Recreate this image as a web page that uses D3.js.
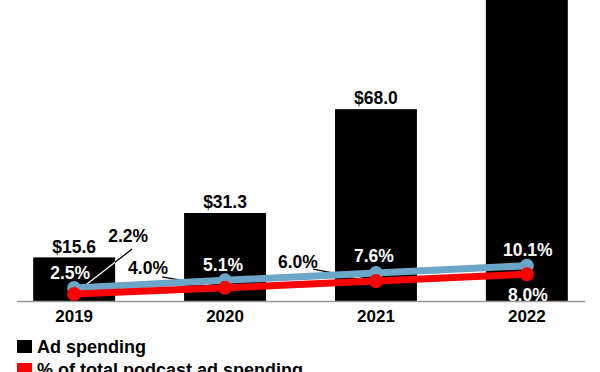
<!DOCTYPE html>
<html>
<head>
    <script src="https://d3js.org/d3.v7.min.js"></script>
    <style>
        body { margin: 0; background: #fff; }
        svg { display: block; }
        text { font-family: "Liberation Sans", Arial, sans-serif; font-weight: bold; }
    </style>
</head>
<body>
    <svg></svg>
    <script>
        // Datos
        const years = ["2019", "2020", "2021", "2022"];
        const adSpending = [15.6, 31.3, 68.0, 120.0];      // 2022 sale del cuadro
        const shareBlue = [2.5, 5.1, 7.6, 10.1];
        const shareRed = [2.2, 4.0, 6.0, 8.0];
        const legendLabels = ["Ad spending", "% of total podcast ad spending"];

        const width = 600, height = 372;
        const baseline = 301.5;

        const svg = d3.select("svg")
            .attr("width", width)
            .attr("height", height);

        // Escalas
        const x = d3.scaleBand()
            .domain(years)
            .range([3, 598])
            .paddingInner(0.457)
            .paddingOuter(0.2);
        const cx = d => x(d) + x.bandwidth() / 2;

        const yBar = d3.scaleLinear().domain([0, 106.6]).range([baseline, 0]);
        const yBlue = d3.scaleLinear().domain([0, 10]).range([295.3, 266]);
        const yRed = d3.scaleLinear().domain([0, 10]).range([baseline, 267.4]);

        // Barras
        svg.append("g")
            .selectAll("rect")
            .data(adSpending)
            .join("rect")
            .attr("x", (d, i) => x(years[i]))
            .attr("y", d => yBar(d))
            .attr("width", x.bandwidth())
            .attr("height", d => baseline - yBar(d))
            .attr("fill", "#000");

        svg.append("g")
            .selectAll("text")
            .data(adSpending.map((v, i) => ({ v, i })).filter(d => yBar(d.v) > 20))
            .join("text")
            .attr("x", d => cx(years[d.i]))
            .attr("y", d => yBar(d.v) - 11)
            .attr("dy", "0.35em")
            .attr("text-anchor", "middle")
            .attr("font-size", 17.5)
            .attr("fill", "#000")
            .text(d => "$" + d.v.toFixed(1));

        // Clip para las partes de las guías dentro de las barras
        svg.append("clipPath").attr("id", "bars")
            .selectAll("rect")
            .data(adSpending)
            .join("rect")
            .attr("x", (d, i) => x(years[i]))
            .attr("y", d => yBar(d))
            .attr("width", x.bandwidth())
            .attr("height", d => baseline - yBar(d));

        // Eje
        svg.append("line")
            .attr("x1", 17).attr("x2", 585)
            .attr("y1", baseline).attr("y2", baseline)
            .attr("stroke", "#9a9a9a")
            .attr("stroke-width", 1.5);

        const axis = svg.append("g")
            .attr("transform", `translate(0,${baseline})`)
            .call(d3.axisBottom(x).tickSize(0).tickPadding(8));
        axis.select(".domain").remove();
        axis.selectAll("text")
            .attr("font-size", 17)
            .attr("font-family", "'Liberation Sans', Arial, sans-serif")
            .attr("font-weight", "bold")
            .attr("fill", "#000");

        // Guías de etiquetas rojas
        const leaders = [
            { i: 0, sx: 58, sy: -45 },
            { i: 1, sx: -63, sy: -11 },
            { i: 2, sx: -63, sy: -12 }
        ];
        ["#000", "#fff"].forEach((c, k) => {
            const g = svg.append("g");
            if (k === 1) g.attr("clip-path", "url(#bars)");
            g.selectAll("line")
                .data(leaders)
                .join("line")
                .attr("x1", d => cx(years[d.i]) + d.sx)
                .attr("y1", d => yRed(shareRed[d.i]) + d.sy)
                .attr("x2", d => cx(years[d.i]))
                .attr("y2", d => yRed(shareRed[d.i]))
                .attr("stroke", c)
                .attr("stroke-width", 1.3);
        });

        // Líneas
        [[shareBlue, yBlue, "#6ba6c8"], [shareRed, yRed, "#ff0000"]].forEach(([vals, y, col]) => {
            svg.append("path")
                .attr("d", d3.line().x((d, i) => cx(years[i])).y(d => y(d))(vals))
                .attr("fill", "none")
                .attr("stroke", col)
                .attr("stroke-width", 7);
            svg.append("g")
                .selectAll("circle")
                .data(vals)
                .join("circle")
                .attr("cx", (d, i) => cx(years[i]))
                .attr("cy", d => y(d))
                .attr("r", 7)
                .attr("fill", col);
        });

        // Etiquetas de porcentaje
        const blueOff = [[-4, -15], [-2, -15.5], [-2, -17], [1, -15.7]];
        svg.append("g")
            .selectAll("text")
            .data(shareBlue)
            .join("text")
            .attr("x", (d, i) => cx(years[i]) + blueOff[i][0])
            .attr("y", d => yBlue(d))
            .attr("dy", (d, i) => blueOff[i][1] + 6)
            .attr("text-anchor", "middle")
            .attr("font-size", 17.5)
            .attr("fill", "#fff")
            .text(d => d.toFixed(1) + "%");

        const redOff = [[54, -58], [-77, -20], [-78, -19], [1, 21]];
        svg.append("g")
            .selectAll("text")
            .data(shareRed)
            .join("text")
            .attr("x", (d, i) => cx(years[i]) + redOff[i][0])
            .attr("y", d => yRed(d))
            .attr("dy", (d, i) => redOff[i][1] + 6)
            .attr("text-anchor", "middle")
            .attr("font-size", 17.5)
            .attr("fill", (d, i) => i === 3 ? "#fff" : "#000")
            .text(d => d.toFixed(1) + "%");

        // Leyenda
        const legend = svg.append("g")
            .selectAll("g")
            .data(legendLabels)
            .join("g")
            .attr("transform", (d, i) => `translate(17,${340 + i * 23})`);
        legend.append("rect")
            .attr("width", 15)
            .attr("height", 13)
            .attr("fill", (d, i) => i === 0 ? "#000" : "#ff0000");
        legend.append("text")
            .attr("x", 20)
            .attr("y", 12.5)
            .attr("font-size", 18)
            .attr("fill", "#000")
            .text(d => d);
    </script>
</body>
</html>
